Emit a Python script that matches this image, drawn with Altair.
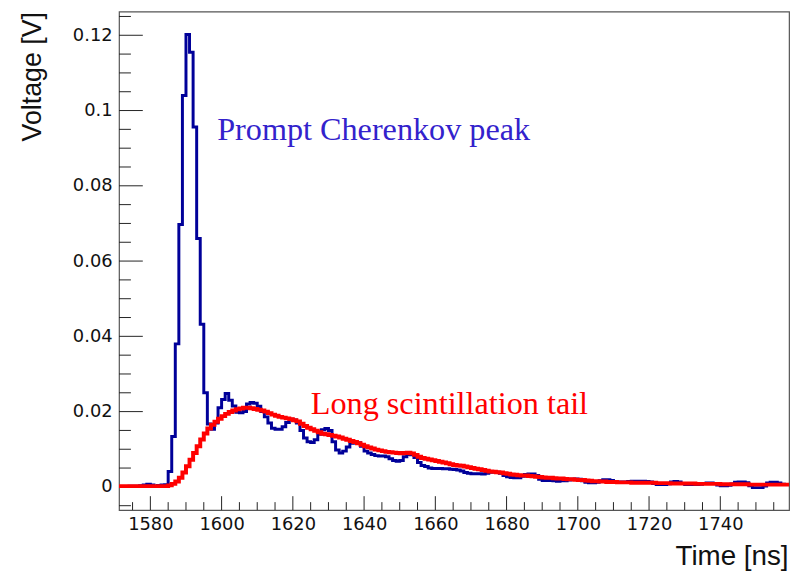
import altair as alt
import pandas as pd

# ---------------- data (bin left edges in ns, 1 ns bins) ----------------
BIN_START = 1571
BIN_WIDTH = 1

blue_values = [
    0.0001, 0.0001, 0.0001, 0.0002, 0.0002, 0.0002, 0.0003, 0.0005, 0.0007, 0.0005,  # 1571-1580
    0.0002, 0.0004, 0.0005, 0.0006, 0.0041, 0.0134, 0.0380, 0.0697, 0.1040, 0.1202,  # 1581-1590
    0.1155, 0.0956, 0.0660, 0.0432, 0.0250, 0.0167, 0.0153, 0.0170, 0.0210, 0.0232,  # 1591-1600
    0.0248, 0.0230, 0.0215, 0.0198, 0.0197, 0.0200, 0.0220, 0.0224, 0.0222, 0.0214,  # 1601-1610
    0.0200, 0.0186, 0.0170, 0.0156, 0.0153, 0.0153, 0.0160, 0.0171, 0.0180, 0.0178,  # 1611-1620
    0.0170, 0.0150, 0.0130, 0.0120, 0.0118, 0.0125, 0.0140, 0.0152, 0.0155, 0.0150,  # 1621-1630
    0.0120, 0.0098, 0.0090, 0.0095, 0.0106, 0.0116, 0.0118, 0.0117, 0.0108, 0.0095,  # 1631-1640
    0.0090, 0.0086, 0.0083, 0.0082, 0.0082, 0.0080, 0.0075, 0.0070, 0.0068, 0.0070,  # 1641-1650
    0.0080, 0.0086, 0.0085, 0.0078, 0.0065, 0.0057, 0.0054, 0.0050, 0.0049, 0.0049,  # 1651-1660
    0.0049, 0.0048, 0.0048, 0.0047, 0.0046, 0.0045, 0.0042, 0.0038, 0.0036, 0.0035,  # 1661-1670
    0.0035, 0.0035, 0.0034, 0.0036, 0.0039, 0.0040, 0.0039, 0.0036, 0.0030, 0.0027,  # 1671-1680
    0.0025, 0.0024, 0.0024, 0.0028, 0.0033, 0.0034, 0.0034, 0.0030, 0.0020, 0.0017,  # 1681-1690
    0.0017, 0.0017, 0.0016, 0.0015, 0.0016, 0.0016, 0.0018, 0.0020, 0.0021, 0.0020,  # 1691-1700
    0.0016, 0.0012, 0.0011, 0.0011, 0.0012, 0.0016, 0.0019, 0.0019, 0.0017, 0.0013,  # 1701-1710
    0.0013, 0.0013, 0.0013, 0.0014, 0.0015, 0.0015, 0.0015, 0.0015, 0.0014, 0.0013,  # 1711-1720
    0.0009, 0.0006, 0.0006, 0.0006, 0.0008, 0.0013, 0.0014, 0.0013, 0.0009, 0.0006,  # 1721-1730
    0.0006, 0.0006, 0.0006, 0.0007, 0.0009, 0.0010, 0.0010, 0.0009, 0.0005, 0.0003,  # 1731-1740
    0.0003, 0.0004, 0.0008, 0.0012, 0.0013, 0.0013, 0.0011, 0.0003, -0.0002, -0.0002,  # 1741-1750
    -0.0002, 0.0002, 0.0010, 0.0012, 0.0012, 0.0010, 0.0007, 0.0006, 0.0006,  # 1751-1759
]

red_values = [
    0.0002, 0.0002, 0.0002, 0.0002, 0.0002, 0.0002, 0.0002, 0.0002, 0.0002, 0.0002,  # 1571-1580
    0.0002, 0.0002, 0.0002, 0.0002, 0.0004, 0.0008, 0.0014, 0.0024, 0.0038, 0.0055,  # 1581-1590
    0.0072, 0.0090, 0.0108, 0.0126, 0.0142, 0.0155, 0.0165, 0.0173, 0.0181, 0.0188,  # 1591-1600
    0.0194, 0.0199, 0.0203, 0.0206, 0.0208, 0.0210, 0.0210, 0.0209, 0.0207, 0.0205,  # 1601-1610
    0.0203, 0.0200, 0.0196, 0.0192, 0.0189, 0.0186, 0.0184, 0.0182, 0.0180, 0.0177,  # 1611-1620
    0.0174, 0.0168, 0.0162, 0.0157, 0.0153, 0.0149, 0.0145, 0.0141, 0.0140, 0.0138,  # 1621-1630
    0.0136, 0.0134, 0.0131, 0.0128, 0.0125, 0.0122, 0.0119, 0.0116, 0.0112, 0.0108,  # 1631-1640
    0.0105, 0.0102, 0.0099, 0.0097, 0.0095, 0.0093, 0.0092, 0.0091, 0.0090, 0.0089,  # 1641-1650
    0.0090, 0.0091, 0.0089, 0.0085, 0.0080, 0.0077, 0.0075, 0.0073, 0.0071, 0.0069,  # 1651-1660
    0.0067, 0.0065, 0.0063, 0.0060, 0.0058, 0.0057, 0.0056, 0.0054, 0.0052, 0.0050,  # 1661-1670
    0.0048, 0.0047, 0.0045, 0.0043, 0.0041, 0.0040, 0.0039, 0.0038, 0.0036, 0.0035,  # 1671-1680
    0.0033, 0.0032, 0.0031, 0.0030, 0.0030, 0.0029, 0.0028, 0.0027, 0.0026, 0.0025,  # 1681-1690
    0.0024, 0.0024, 0.0023, 0.0022, 0.0022, 0.0021, 0.0020, 0.0020, 0.0019, 0.0018,  # 1691-1700
    0.0018, 0.0017, 0.0016, 0.0015, 0.0015, 0.0014, 0.0014, 0.0013, 0.0013, 0.0013,  # 1701-1710
    0.0012, 0.0012, 0.0012, 0.0012, 0.0011, 0.0011, 0.0011, 0.0011, 0.0011, 0.0011,  # 1711-1720
    0.0011, 0.0010, 0.0010, 0.0010, 0.0010, 0.0009, 0.0009, 0.0009, 0.0009, 0.0009,  # 1721-1730
    0.0009, 0.0009, 0.0008, 0.0008, 0.0008, 0.0008, 0.0008, 0.0008, 0.0008, 0.0007,  # 1731-1740
    0.0007, 0.0007, 0.0007, 0.0007, 0.0007, 0.0007, 0.0007, 0.0006, 0.0006, 0.0006,  # 1741-1750
    0.0006, 0.0006, 0.0006, 0.0006, 0.0006, 0.0006, 0.0006, 0.0006, 0.0006,  # 1751-1759
]

x_major_ticks = [1580, 1600, 1620, 1640, 1660, 1680, 1700, 1720, 1740]
x_minor_ticks = [v for v in range(1575, 1760, 5) if v % 20 != 0]
y_major_ticks = [0, 0.02, 0.04, 0.06, 0.08, 0.1, 0.12]
y_minor_ticks = [-0.005, 0.005, 0.01, 0.015, 0.025, 0.03, 0.035, 0.045, 0.05,
                 0.055, 0.065, 0.07, 0.075, 0.085, 0.09, 0.095, 0.105, 0.11,
                 0.115, 0.125]

x_domain = [1571.2, 1759.3]
y_domain = [-0.00616, 0.12632]

annotations = ["Prompt Cherenkov peak", "Long scintillation tail"]
x_title = "Time [ns]"
y_title = "Voltage [V]"

# ---------------- build tables ----------------
def hist_frame(values):
    edges = [BIN_START + BIN_WIDTH * i for i in range(len(values) + 1)]
    vals = list(values) + [values[-1]]
    return pd.DataFrame({"t": edges, "v": vals})

blue_df = hist_frame(blue_values)
red_df = hist_frame(red_values)

W, H = 676, 503
xs = alt.Scale(domain=x_domain, nice=False, zero=False)
ys = alt.Scale(domain=y_domain, nice=False, zero=False)

x_axis = alt.Axis(
    values=x_major_ticks, format="d", ticks=False, tickSize=0, domain=False,
    grid=False, labelFont="DejaVu Sans", labelFontSize=18, labelColor="#111111",
    labelPadding=20, labelBaseline="alphabetic", labelOverlap=False, labelFlush=False,
    title=x_title, titleFont="Liberation Sans", titleFontSize=28,
    titleFontWeight="normal", titleColor="#111111", titleX=675, titleY=55,
    titleAlign="right", titleBaseline="alphabetic", titleAngle=0,
)
y_axis = alt.Axis(
    values=y_major_ticks, format="~g", ticks=False, tickSize=0, domain=False,
    grid=False, labelFont="DejaVu Sans", labelFontSize=18, labelColor="#111111",
    labelPadding=7, labelAlign="right", labelBaseline="middle",
    labelOverlap=False, labelFlush=False,
    title=y_title, titleFont="Liberation Sans", titleFontSize=27,
    titleFontWeight="normal", titleColor="#111111", titleX=-79, titleY=0,
    titleAlign="right", titleBaseline="alphabetic", titleAngle=270,
)

TICK_COLOR = "#222222"

xmaj = alt.Chart(pd.DataFrame({"t": x_major_ticks})).mark_rule(
    color=TICK_COLOR, strokeWidth=1).encode(
    x=alt.X("t:Q", scale=xs, axis=x_axis), y=alt.value(H), y2=alt.value(H - 14))
xmin = alt.Chart(pd.DataFrame({"t": x_minor_ticks})).mark_rule(
    color=TICK_COLOR, strokeWidth=1).encode(
    x=alt.X("t:Q", scale=xs, axis=x_axis), y=alt.value(H), y2=alt.value(H - 8))
ymaj = alt.Chart(pd.DataFrame({"v": y_major_ticks})).mark_rule(
    color=TICK_COLOR, strokeWidth=1).encode(
    y=alt.Y("v:Q", scale=ys, axis=y_axis), x=alt.value(0), x2=alt.value(24))
ymin = alt.Chart(pd.DataFrame({"v": y_minor_ticks})).mark_rule(
    color=TICK_COLOR, strokeWidth=1).encode(
    y=alt.Y("v:Q", scale=ys, axis=y_axis), x=alt.value(0), x2=alt.value(12))

blue_line = alt.Chart(blue_df).mark_line(
    interpolate="step-after", color="#000099", strokeWidth=3, clip=True,
    strokeJoin="miter", strokeCap="butt").encode(
    x=alt.X("t:Q", scale=xs, axis=x_axis),
    y=alt.Y("v:Q", scale=ys, axis=y_axis))

red_line = alt.Chart(red_df).mark_line(
    interpolate="step-after", color="#ff0000", strokeWidth=4, clip=True,
    strokeJoin="miter", strokeCap="butt").encode(
    x=alt.X("t:Q", scale=xs, axis=x_axis),
    y=alt.Y("v:Q", scale=ys, axis=y_axis))

prompt_text = alt.Chart(pd.DataFrame({"label": [annotations[0]]})).mark_text(
    align="left", baseline="alphabetic", font="Liberation Serif", fontSize=32.5,
    color="#3322cc").encode(text="label:N", x=alt.value(99), y=alt.value(129.5))

tail_text = alt.Chart(pd.DataFrame({"label": [annotations[1]]})).mark_text(
    align="left", baseline="alphabetic", font="Liberation Serif", fontSize=32.5,
    color="#ff0000").encode(text="label:N", x=alt.value(193.5), y=alt.value(406))

chart = alt.layer(
    xmaj, xmin, ymaj, ymin, blue_line, red_line, prompt_text, tail_text
).properties(
    width=W, height=H,
    autosize=alt.AutoSizeParams(type="none"),
    padding={"left": 112, "top": 1, "right": 6, "bottom": 63},
    background="white",
).configure_view(
    stroke="#555555", strokeWidth=1.2
)

chart.save("out.html", embed_options={"renderer": "svg", "actions": False})
